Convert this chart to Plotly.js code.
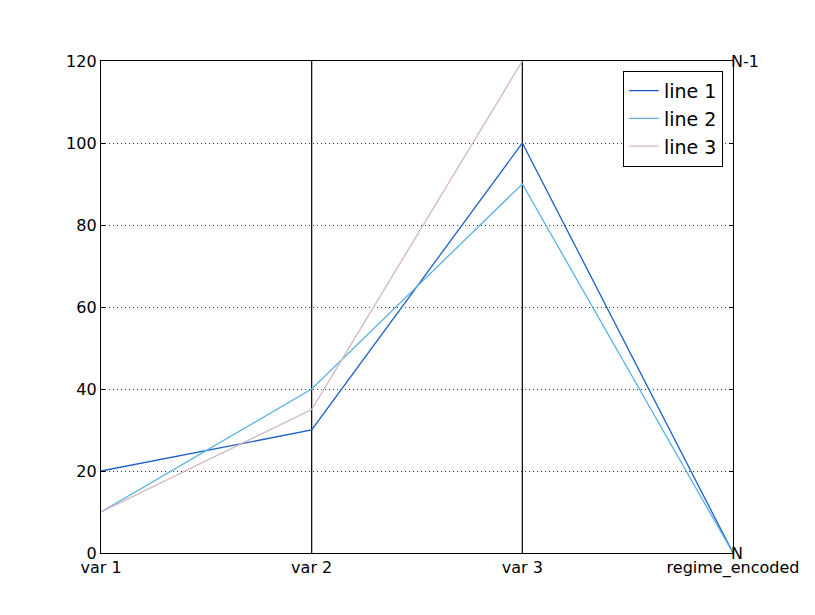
<!DOCTYPE html>
<html>
<head>
<meta charset="utf-8">
<script src="https://cdn.plot.ly/plotly-3.0.1.min.js"></script>
<style>body{margin:0;padding:0;background:#fff;} #chart{width:815px;height:615px;}</style>
</head>
<body>
<div id="chart"></div>
<script>
var categories = ["var 1", "var 2", "var 3", "regime_encoded"];
var seriesNames = ["line 1", "line 2", "line 3"];
var line1 = [20, 30, 100, 0];
var line2 = [10, 40, 90, 0];
var line3 = [10, 35, 120, null];
var rightTickVals = [0, 120];
var rightTickText = ["N", "N-1"];
var yTicks = [0, 20, 40, 60, 80, 100, 120];

var colors = ["#1c5fc6", "#5ab2e6", "#d4b6bf"];
var xpos = categories.map(function (c, i) { return i; });
var allSeries = [line1, line2, line3];

var traces = allSeries.map(function (vals, i) {
  return {
    x: xpos, y: vals, type: "scatter", mode: "lines", name: seriesNames[i],
    line: {color: colors[i], width: 1.3}, connectgaps: false, cliponaxis: true
  };
});
// invisible trace to activate right axis
traces.push({x: [0], y: [0], yaxis: "y2", mode: "markers", marker: {opacity: 0}, showlegend: false, hoverinfo: "skip"});

var shapes = [1, 2].map(function (i) {
  return {type: "line", xref: "x", yref: "paper", x0: xpos[i], x1: xpos[i], y0: 0, y1: 1,
          line: {color: "#000", width: 1.2}, layer: "below"};
});

var font = {family: "DejaVu Sans", size: 16, color: "#000"};

var layout = {
  width: 815, height: 615,
  margin: {l: 101, r: 82, t: 61, b: 62},
  paper_bgcolor: "#fff", plot_bgcolor: "#fff",
  font: font,
  showlegend: true,
  legend: {x: 0.984, xanchor: "right", y: 0.98, yanchor: "top",
           bgcolor: "#fff", bordercolor: "#000", borderwidth: 1,
           font: {family: "DejaVu Sans", size: 19, color: "#000"}, tracegroupgap: 0},
  xaxis: {range: [0, 3], tickvals: xpos, ticktext: categories, showgrid: false, zeroline: false,
          showline: true, mirror: true, linecolor: "#000", linewidth: 1.2,
          ticks: "", tickfont: font},
  yaxis: {range: [0, 120], tickvals: yTicks, showgrid: true, gridcolor: "#333", griddash: "1px,3px", gridwidth: 1,
          zeroline: false, showline: true, mirror: "allticks", linecolor: "#000", linewidth: 1.2,
          ticks: "inside", ticklen: 4, tickcolor: "#000", tickfont: font},
  yaxis2: {overlaying: "y", side: "right", range: [0, 120], tickvals: rightTickVals, ticktext: rightTickText,
           showgrid: false, zeroline: false, showline: false, ticks: "", tickfont: font, ticklabelstandoff: -3},
  shapes: shapes
};

Plotly.newPlot("chart", traces, layout, {displayModeBar: false, staticPlot: true});
</script>
</body>
</html>
